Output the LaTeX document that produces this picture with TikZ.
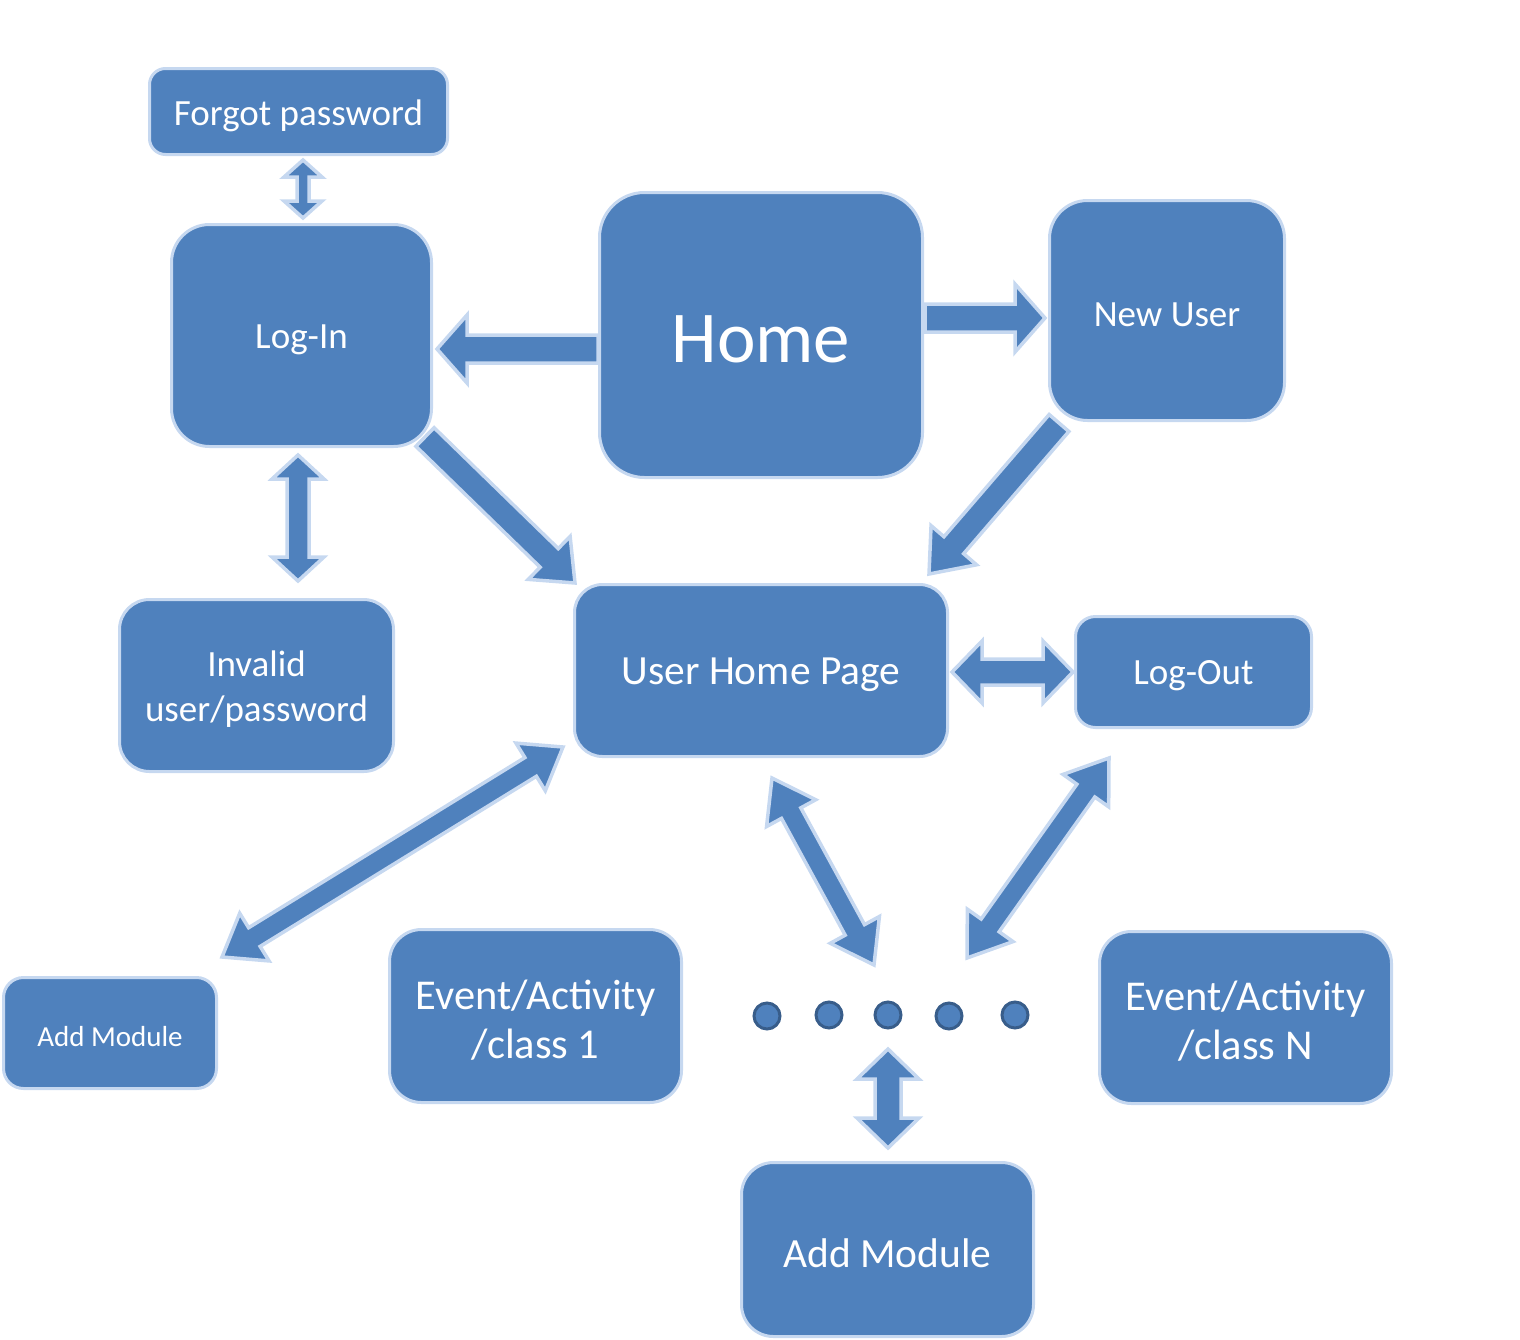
\documentclass[tikz,border=0pt]{standalone}
\usepackage{fontspec}
\setmainfont{Carlito}
\usetikzlibrary{calc}
\definecolor{boxfill}{HTML}{4F81BD}
\definecolor{boxline}{HTML}{C6D8F0}
\definecolor{dotline}{HTML}{385D8A}
\tikzset{
  box/.style={draw=boxline, fill=boxfill, line width=3pt, inner sep=0pt},
  txt/.style={text=white, align=center, inner sep=0pt, yshift=-4pt},
  dotnode/.style={circle, draw=dotline, fill=boxfill, line width=3pt, minimum size=26pt, inner sep=0pt},
  blockarrow/.style={draw=boxline, fill=boxfill, line width=3.5pt, line join=miter},
  fsmall/.style={font=\fontsize{29}{35}\selectfont},
  fmid/.style={font=\fontsize{37}{44}\selectfont},
  fnorm/.style={font=\fontsize{37}{45}\selectfont},
  fbig/.style={font=\fontsize{41.5}{49}\selectfont},
  fev/.style={font=\fontsize{42.5}{49}\selectfont},
  fhuge/.style={font=\fontsize{73}{80}\selectfont},
}
% single block arrow: from, to, shaft half-width, head half-width, head length
\newcommand\sglarrow[5]{%
  \path (#1); \pgfgetlastxy{\ArAx}{\ArAy}%
  \path (#2); \pgfgetlastxy{\ArBx}{\ArBy}%
  \pgfmathsetmacro\ArAng{atan2(\ArBy-\ArAy,\ArBx-\ArAx)}%
  \pgfmathsetmacro\ArLen{veclen(\ArBx-\ArAx,\ArBy-\ArAy)}%
  \pgfmathsetmacro\ArK{\ArLen-#5}%
  \begin{scope}[shift={(\ArAx,\ArAy)}, rotate=\ArAng]
    \draw[blockarrow] (0pt,-#3pt) -- (\ArK pt,-#3pt) -- (\ArK pt,-#4pt) -- (\ArLen pt,0pt)
      -- (\ArK pt,#4pt) -- (\ArK pt,#3pt) -- (0pt,#3pt) -- cycle;
  \end{scope}}
% double block arrow
\newcommand\dblarrow[5]{%
  \path (#1); \pgfgetlastxy{\ArAx}{\ArAy}%
  \path (#2); \pgfgetlastxy{\ArBx}{\ArBy}%
  \pgfmathsetmacro\ArAng{atan2(\ArBy-\ArAy,\ArBx-\ArAx)}%
  \pgfmathsetmacro\ArLen{veclen(\ArBx-\ArAx,\ArBy-\ArAy)}%
  \pgfmathsetmacro\ArK{\ArLen-#5}%
  \begin{scope}[shift={(\ArAx,\ArAy)}, rotate=\ArAng]
    \draw[blockarrow] (0pt,0pt) -- (#5pt,-#4pt) -- (#5pt,-#3pt) -- (\ArK pt,-#3pt) -- (\ArK pt,-#4pt)
      -- (\ArLen pt,0pt) -- (\ArK pt,#4pt) -- (\ArK pt,#3pt) -- (#5pt,#3pt) -- (#5pt,#4pt) -- cycle;
  \end{scope}}
\begin{document}
\begin{tikzpicture}[x=1pt,y=-1pt]
\useasboundingbox (0,0) rectangle (1520,1339);
% boxes
\node[box, minimum width=298pt, minimum height=86pt, rounded corners=16pt,
  label={[txt, fmid]center:Forgot password}] (forgot) at (298.5,111.5) {};
\node[box, minimum width=260pt, minimum height=222pt, rounded corners=38pt,
  label={[txt, fnorm]center:Log-In}] (login) at (301.5,335.5) {};
\node[box, minimum width=323pt, minimum height=285pt, rounded corners=45pt,
  label={[txt, fhuge]center:Home}] (home) at (761,335) {};
\node[box, minimum width=235pt, minimum height=220pt, rounded corners=38pt,
  label={[txt, fnorm]center:New User}] (newuser) at (1167,310.5) {};
\node[box, minimum width=274pt, minimum height=172pt, rounded corners=30pt,
  label={[txt, fnorm]center:{Invalid\\user/password}}] (invalid) at (256.5,685.5) {};
\node[box, minimum width=373pt, minimum height=172pt, rounded corners=28pt,
  label={[txt, fbig]center:User Home Page}] (uhp) at (761,670.5) {};
\node[box, minimum width=236pt, minimum height=111pt, rounded corners=20pt,
  label={[txt, fnorm]center:Log-Out}] (logout) at (1193.5,672) {};
\node[box, minimum width=213pt, minimum height=111pt, rounded corners=20pt,
  label={[txt, fsmall]center:Add Module}] (addsmall) at (110,1033) {};
\node[box, minimum width=292pt, minimum height=173pt, rounded corners=32pt,
  label={[txt, fev]center:{Event/Activity\\/class 1}}] (ev1) at (535.5,1016) {};
\node[box, minimum width=292pt, minimum height=172pt, rounded corners=32pt,
  label={[txt, fev]center:{Event/Activity\\/class N}}] (evN) at (1245.5,1017.5) {};
\node[box, minimum width=292pt, minimum height=174pt, rounded corners=32pt,
  label={[txt, fbig]center:Add Module}] (addbig) at (887.5,1249.5) {};
% dots
\node[dotnode] (d1) at (767,1016) {};
\node[dotnode] (d2) at (829,1015) {};
\node[dotnode] (d3) at (888,1015) {};
\node[dotnode] (d4) at (949,1016) {};
\node[dotnode] (d5) at (1015,1015) {};
% arrow end points
\coordinate (a1t) at (598,349);  \coordinate (a1h) at (437,349);
\coordinate (a2t) at (925,318);  \coordinate (a2h) at (1045,318);
\coordinate (a3a) at (303,160);  \coordinate (a3b) at (303,218);
\coordinate (a4a) at (298,455);  \coordinate (a4b) at (298,581);
\coordinate (a5t) at (425,437);  \coordinate (a5h) at (575,583);
\coordinate (a6t) at (1059,423); \coordinate (a6h) at (929,574);
\coordinate (a7a) at (952,672);  \coordinate (a7b) at (1073,672);
\coordinate (a8a) at (563,747);  \coordinate (a8b) at (222,957);
\coordinate (a9a) at (772,778);  \coordinate (a9b) at (874,965);
\coordinate (a10a) at (1109,758); \coordinate (a10b) at (967,958);
\coordinate (a11a) at (888,1049); \coordinate (a11b) at (888,1148);
% arrows
\sglarrow{a1t}{a1h}{14}{34}{30}
\sglarrow{a2t}{a2h}{14}{34}{30}
\dblarrow{a3a}{a3b}{6}{19}{17}
\dblarrow{a4a}{a4b}{11}{26}{24}
\sglarrow{a5t}{a5h}{13}{30}{36}
\sglarrow{a6t}{a6h}{13}{30}{38}
\dblarrow{a7a}{a7b}{13}{31}{30}
\dblarrow{a8a}{a8b}{11}{28}{38}
\dblarrow{a9a}{a9b}{11}{28}{40}
\dblarrow{a10a}{a10b}{11}{28}{40}
\dblarrow{a11a}{a11b}{13}{31}{30}
\end{tikzpicture}
\end{document}
